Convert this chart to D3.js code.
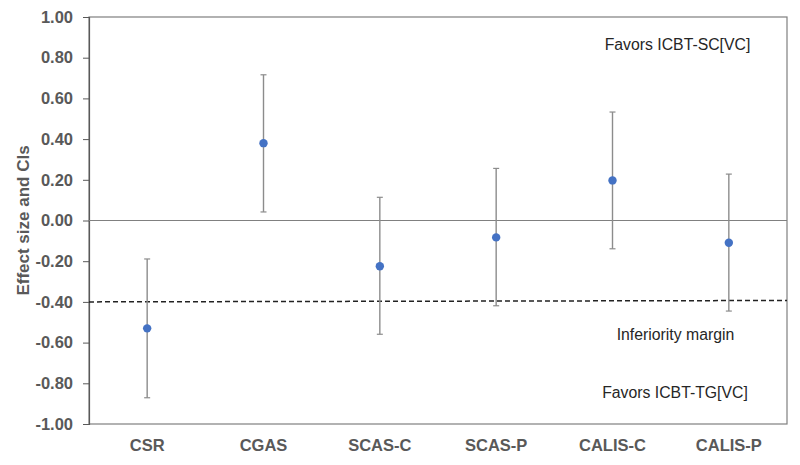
<!DOCTYPE html>
<html>
<head>
<meta charset="utf-8">
<script src="https://cdn.jsdelivr.net/npm/d3@7"></script>
<style>
  body { margin: 0; background: #fff; }
  text { font-family: "Liberation Sans", Arial, sans-serif; }
</style>
</head>
<body>
<div id="chart"></div>
<script>
// data
var measures = ["CSR", "CGAS", "SCAS-C", "SCAS-P", "CALIS-C", "CALIS-P"];
var effect   = [-0.53, 0.38, -0.225, -0.083, 0.197, -0.109];
var ciLow    = [-0.871, 0.042, -0.559, -0.419, -0.139, -0.445];
var ciHigh   = [-0.189, 0.716, 0.114, 0.256, 0.533, 0.228];
var yTicks   = [-1, -0.8, -0.6, -0.4, -0.2, 0, 0.2, 0.4, 0.6, 0.8, 1];
var margin   = [-0.40, -0.393]; // inferiority margin, left and right end

var W = 800, H = 465;
var m = {top: 17, right: 13, bottom: 41, left: 89},
    width = W - m.left - m.right,
    height = H - m.top - m.bottom;

var svg = d3.select("#chart")
  .append("svg")
    .attr("width", W)
    .attr("height", H)
  .append("g")
    .attr("transform", "translate(" + m.left + "," + m.top + ")");

var x = d3.scaleBand()
  .domain(measures)
  .range([0, width]);

var y = d3.scaleLinear()
  .domain([-1, 1])
  .range([height, 0]);

var axisCol = "#595959";

// frame
svg.append("rect")
  .attr("x", 0).attr("y", 0)
  .attr("width", width).attr("height", height)
  .attr("fill", "none")
  .attr("stroke", "#7f7f7f")
  .attr("stroke-width", 1.2);

// y axis
var yAxis = svg.append("g")
  .call(d3.axisLeft(y).tickValues(yTicks).tickSize(6).tickPadding(10)
    .tickFormat(function(d) { return d.toFixed(2); }));
yAxis.select(".domain").attr("stroke", axisCol).attr("stroke-width", 1.2);
yAxis.selectAll(".tick line").attr("stroke", axisCol);
yAxis.selectAll(".tick text")
  .attr("fill", axisCol)
  .style("font-size", "16.5px")
  .style("font-weight", "bold");

// zero line
svg.append("line")
  .attr("x1", 0).attr("x2", width)
  .attr("y1", y(0)).attr("y2", y(0))
  .attr("stroke", "#808080")
  .attr("stroke-width", 1.2);

// inferiority margin
svg.append("line")
  .attr("x1", 0).attr("x2", width)
  .attr("y1", y(margin[0])).attr("y2", y(margin[1]))
  .attr("stroke", "#222")
  .attr("stroke-width", 1.5)
  .attr("stroke-dasharray", "5,3");

// x labels
svg.selectAll(".xlab")
  .data(measures)
  .enter()
  .append("text")
    .attr("x", function(d) { return x(d) + x.bandwidth() / 2; })
    .attr("y", height + 27)
    .attr("text-anchor", "middle")
    .attr("fill", axisCol)
    .style("font-size", "16.5px")
    .style("font-weight", "bold")
    .text(function(d) { return d; });

// error bars
var rows = measures.map(function(d, i) {
  return {name: d, v: effect[i], lo: ciLow[i], hi: ciHigh[i]};
});
var cx = function(d) { return x(d.name) + x.bandwidth() / 2; };

var bars = svg.selectAll(".err")
  .data(rows)
  .enter()
  .append("g");
bars.append("line")
  .attr("x1", cx).attr("x2", cx)
  .attr("y1", function(d) { return y(d.lo); })
  .attr("y2", function(d) { return y(d.hi); })
  .attr("stroke", "#8c8c8c")
  .attr("stroke-width", 1.4);
["lo", "hi"].forEach(function(k) {
  bars.append("line")
    .attr("x1", function(d) { return cx(d) - 3; })
    .attr("x2", function(d) { return cx(d) + 3; })
    .attr("y1", function(d) { return y(d[k]); })
    .attr("y2", function(d) { return y(d[k]); })
    .attr("stroke", "#8c8c8c")
    .attr("stroke-width", 1.2);
});
bars.append("circle")
  .attr("cx", cx)
  .attr("cy", function(d) { return y(d.v); })
  .attr("r", 4.2)
  .attr("fill", "#4472c4");

// y title
svg.append("text")
  .attr("transform", "translate(" + (-60.5) + "," + (height / 2) + ") rotate(-90)")
  .attr("text-anchor", "middle")
  .attr("fill", axisCol)
  .style("font-size", "17px")
  .style("font-weight", "bold")
  .text("Effect size and CIs");

// annotations
var notes = [
  {t: "Favors ICBT-SC[VC]", v: 0.838, cx: 588.5},
  {t: "Inferiority margin", v: -0.585, cx: 586.5},
  {t: "Favors ICBT-TG[VC]", v: -0.87, cx: 586}
];
svg.selectAll(".note")
  .data(notes)
  .enter()
  .append("text")
    .attr("x", function(d) { return d.cx; })
    .attr("y", function(d) { return y(d.v); })
    .attr("text-anchor", "middle")
    .attr("fill", "#262626")
    .style("font-size", "15.8px")
    .text(function(d) { return d.t; });
</script>
</body>
</html>
